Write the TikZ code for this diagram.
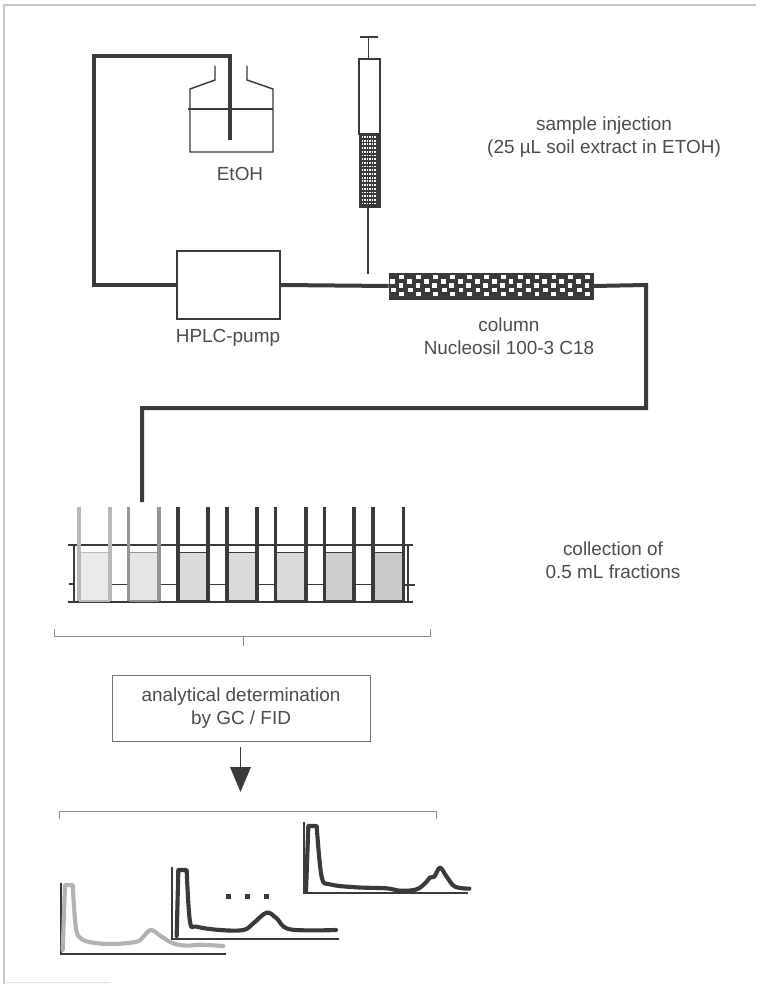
\documentclass[tikz,border=0pt]{standalone}
\usepackage{fontspec}
\setmainfont{Liberation Sans}
\definecolor{ink}{HTML}{3A3A3A}
\definecolor{txt}{HTML}{4C4C4C}
\tikzset{
  pipe/.style={draw=ink,line width=3pt,line join=miter},
  thin line/.style={draw=ink,line width=1.1pt},
  faint/.style={draw=black!45,line width=0.5pt},
  label/.style={text=txt,font=\fontsize{14.2pt}{17pt}\selectfont,align=center,inner sep=0pt},
  axis/.style={draw=ink,line width=1.3pt},
  trace/.style={draw=ink,line width=3.1pt,line join=round,line cap=round},
  white dot/.style={fill=white,draw=none}
}
\begin{document}
\begin{tikzpicture}[x=0.75pt,y=-0.75pt]
\useasboundingbox (0,0) rectangle (756,984);
\fill[white] (0,0) rectangle (756,984);
% page frame
\draw[draw=black!22,line width=0.9pt] (4,984) -- (4,5) -- (756,5);
\draw[draw=black!12,line width=0.7pt] (4,982) -- (110,982);

% bottle
\draw[thin line] (215,66) -- (215,80) -- (190,89) -- (190,152) -- (273,152) -- (273,89) -- (247,80) -- (247,66);
\draw[thin line] (188,109) -- (273,109);

% main components
\node[draw=ink,line width=1.1pt,minimum width=77.25pt,minimum height=51pt,inner sep=0pt] (pump) at (228.5,285) {};
\node[draw=ink,fill=ink,line width=0.6pt,minimum width=153pt,minimum height=19.5pt,inner sep=0pt] (column) at (491,286) {};
\foreach \k in {0,...,23}{
  \pgfmathsetmacro{\xx}{393+8.45*\k}
  \ifodd\k
    \foreach \yy/\d in {277/0.4,285.5/-0.4,294/0.3}{\fill[white dot] (\xx-2.4+\d,\yy-2.3) rectangle ++(4.8,4.6);}
  \else
    \foreach \yy/\d in {281.2/-0.3,289.8/0.4}{\fill[white dot] (\xx-2.4+\d,\yy-2.3) rectangle ++(4.8,4.6);}
  \fi
}

% tubing
\coordinate (c1) at (94,285);
\coordinate (c2) at (94,56);
\coordinate (c3) at (230,56);
\coordinate (dip) at (230,140);
\coordinate (c4) at (646,285);
\coordinate (c5) at (646,408);
\coordinate (c6) at (142,408);
\coordinate (outlet) at (142,502);
\draw[pipe] (pump.west) -- (c1) -- (c2) -- (c3) -- (dip);
\draw[pipe] (pump.east) -- (column.west);
\draw[pipe] (column.east) -- (c4) -- (c5) -- (c6) -- (outlet);

% syringe
\draw[thin line] (360,37) -- (378,37);
\draw[thin line] (368.5,37) -- (368.5,59);
\draw[thin line,fill=white] (359,59) rectangle (380,134);
\fill[ink] (358.5,134) rectangle (380.5,208.5);
\foreach \i in {0,...,5}{\foreach \j in {0,...,18}{
  \fill[white dot] (362.4+2.5*\i-0.75,137+3.7*\j-0.9) rectangle ++(1.5,1.8);
}}
\draw[thin line] (368,208) -- (368,274);

% rack and fraction tubes
\draw[thin line] (68,545) -- (413,545);
\draw[thin line,line width=1.5pt] (68,601.5) -- (413,601.5);
\draw[thin line] (74,545) -- (74,601.5);
\draw[thin line] (408,545) -- (408,601.5);
\draw[thin line] (69,584) -- (75,584);
\draw[thin line] (404,585) -- (415,585);
\foreach \l/\r/\w/\f in {79/110/black!28/black!8,128.5/159/black!42/black!10,178/208/ink/black!14,227/257/ink/black!14,275.5/306/ink/black!15,324.5/354/ink/black!19,373/403.5/ink/black!21}{
  \fill[\f] (\l,552) rectangle (\r,600);
  \draw[\w,line width=1.1pt] (\l,552.5) -- (\r,552.5);
  \draw[\w,line width=1.5pt] (\l,600.5) -- (\r,600.5);
  \draw[\w,line width=2.4pt] (\l,507) -- (\l,601);
  \draw[\w,line width=2.4pt] (\r,507) -- (\r,601);
}
\foreach \a/\b in {110/128.5,159/178,208/227,257/275.5,306/324.5,354/373}{
  \draw[thin line] (\a+1.5,584.5) -- (\b-1.5,584.5);
}

% collection bracket
\draw[faint] (54,629) -- (54,636) -- (430,636) -- (430,629);
\draw[faint] (243,636) -- (243,646);

% analysis box and arrow
\node[draw=black!55,line width=0.6pt,minimum width=193.5pt,minimum height=49.5pt,label] (gc) at (241,708) {analytical determination\\by GC / FID};
\coordinate (arrowtop) at (240.5,747);
\coordinate (arrowbase) at (240.5,767);
\draw[thin line] (arrowtop) -- (arrowbase);
\fill[ink] (230,767) -- (251,767) -- (240.5,792) -- cycle;

% chromatogram bracket
\draw[faint] (59,819) -- (59,811) -- (436,811) -- (436,819);

% chromatograms (coordinates in 1/3 px)
\begin{scope}[shift={(40,740)},x=0.25pt,y=-0.25pt]
\draw[axis] (62,430) -- (62,642) -- (557,642);
\draw[trace,draw=black!30] (68,630) -- (75,435) -- (98,435) -- plot[smooth,tension=0.6] coordinates {(98,435) (108,565) (125,597) (160,608) (220,612) (290,605) (310,590) (333,570) (365,590) (400,610) (440,617) (480,614) (550,618)};
\draw[axis] (396,382) -- (396,598) -- (896,598);
\draw[trace] (410,588) -- (415,390) -- (440,390) -- plot[smooth,tension=0.6] coordinates {(440,390) (450,545) (470,560) (540,570) (610,570) (640,550) (680,518) (710,535) (750,568) (888,570)};
\draw[axis] (792,245) -- (792,460) -- (1283,460);
\draw[trace] (798,455) -- (805,258) -- (830,258) -- plot[smooth,tension=0.6] coordinates {(830,258) (845,410) (870,433) (950,442) (1040,445) (1080,452) (1130,448) (1160,425) (1170,412) (1183,410) (1200,383) (1220,410) (1245,440) (1288,446)};
\foreach \x in {566,623,680}{\fill[ink] (\x-7,463) rectangle ++(14,14);}
\end{scope}

% labels
\node[label] (etoh) at (240,174) {EtOH};
\node[label] (pumplabel) at (228,338) {HPLC-pump};
\node[label] (collabel) at (509,336) {column\\Nucleosil 100-3 C18};
\node[label] (inject) at (604,137) {sample injection\\(25 µL soil extract in ETOH)};
\node[label] (collect) at (613,560) {collection of\\0.5 mL fractions};
\end{tikzpicture}
\end{document}
